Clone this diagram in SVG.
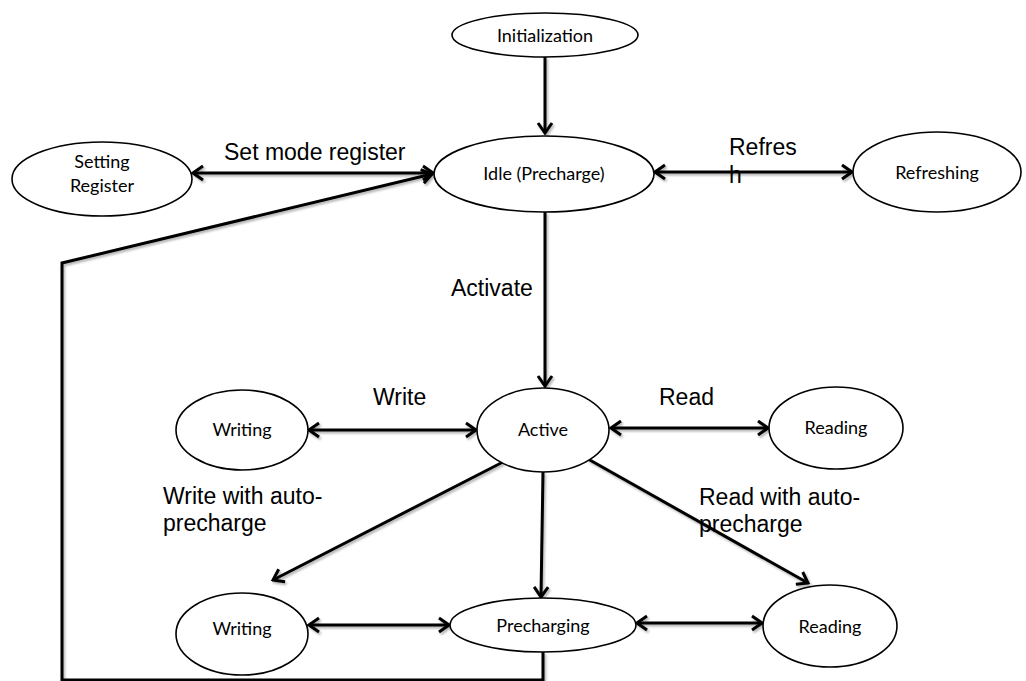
<svg xmlns="http://www.w3.org/2000/svg" width="1026" height="681" viewBox="0 0 1026 681">
  <defs>
    <marker id="head" viewBox="-12 -9 14 18" refX="0" refY="0" markerWidth="14" markerHeight="18" markerUnits="userSpaceOnUse" orient="auto-start-reverse">
      <path d="M-10,-7 L0,0 L-10,7" fill="none" stroke="#000" stroke-width="3" stroke-linejoin="miter"/>
    </marker>
    <filter id="shade" x="-10%" y="-10%" width="130%" height="140%">
      <feDropShadow dx="1.5" dy="2" stdDeviation="1.2" flood-color="#000" flood-opacity="0.3"/>
    </filter>
  </defs>
  <style>
    .node ellipse { fill: #fff; stroke: #000; stroke-width: 1.6; }
    .node text { font-family: "Lato", "Open Sans", sans-serif; font-size: 18px; fill: #000; text-anchor: middle; }
    .edge { fill: none; stroke: #000; stroke-width: 3; }
    .lbl { font-family: "Liberation Sans", Arial, sans-serif; font-size: 23px; fill: #000; }
  </style>
  <rect width="1026" height="681" fill="#fff"/>

  <!-- transitions -->
  <g id="connectors" filter="url(#shade)">
    <line class="edge" x1="545" y1="57" x2="545" y2="133" marker-end="url(#head)"/>
    <line class="edge" x1="193" y1="173" x2="433" y2="173" marker-start="url(#head)" marker-end="url(#head)"/>
    <line class="edge" x1="655" y1="172" x2="852" y2="172" marker-start="url(#head)" marker-end="url(#head)"/>
    <line class="edge" x1="545" y1="212" x2="545" y2="386" marker-end="url(#head)"/>
    <line class="edge" x1="309" y1="430" x2="476" y2="430" marker-start="url(#head)" marker-end="url(#head)"/>
    <line class="edge" x1="611" y1="428" x2="768" y2="428" marker-start="url(#head)" marker-end="url(#head)"/>
    <line class="edge" x1="503" y1="462" x2="273" y2="580" marker-end="url(#head)"/>
    <line class="edge" x1="543" y1="472" x2="541" y2="597" marker-end="url(#head)"/>
    <line class="edge" x1="588" y1="459" x2="808" y2="583" marker-end="url(#head)"/>
    <line class="edge" x1="309" y1="625" x2="449" y2="625" marker-start="url(#head)" marker-end="url(#head)"/>
    <line class="edge" x1="637" y1="623" x2="762" y2="623" marker-start="url(#head)" marker-end="url(#head)"/>
    <polyline class="edge" points="543,652 543,680 62,680 62,263 432,174" marker-end="url(#head)"/>
  </g>

  <!-- transition labels -->
  <g id="labels">
    <text class="lbl" x="224" y="160">Set mode register</text>
    <text class="lbl" x="729" y="155">Refres</text>
    <text class="lbl" x="729" y="183">h</text>
    <text class="lbl" x="451" y="296">Activate</text>
    <text class="lbl" x="373" y="405">Write</text>
    <text class="lbl" x="659" y="405">Read</text>
    <text class="lbl" x="163" y="504">Write with auto-</text>
    <text class="lbl" x="163" y="531">precharge</text>
    <text class="lbl" x="699" y="505">Read with auto-</text>
    <text class="lbl" x="699" y="532">precharge</text>
  </g>

  <!-- states -->
  <g id="initialization" class="node">
    <ellipse cx="545" cy="35" rx="93" ry="22"/>
    <text x="545" y="42">Initialization</text>
  </g>
  <g id="idle" class="node">
    <ellipse cx="544" cy="174" rx="110" ry="38"/>
    <text x="544" y="180">Idle (Precharge)</text>
  </g>
  <g id="setting-register" class="node">
    <ellipse cx="102" cy="179" rx="90" ry="37"/>
    <text x="102" y="168">Setting</text>
    <text x="102" y="192">Register</text>
  </g>
  <g id="refreshing" class="node">
    <ellipse cx="937" cy="172" rx="84" ry="40"/>
    <text x="937" y="179">Refreshing</text>
  </g>
  <g id="active" class="node">
    <ellipse cx="543" cy="430" rx="66" ry="42"/>
    <text x="543" y="436">Active</text>
  </g>
  <g id="writing" class="node">
    <ellipse cx="242" cy="430" rx="66" ry="40"/>
    <text x="242" y="436">Writing</text>
  </g>
  <g id="reading" class="node">
    <ellipse cx="836" cy="428" rx="67" ry="41"/>
    <text x="836" y="434">Reading</text>
  </g>
  <g id="writing-auto" class="node">
    <ellipse cx="242" cy="634" rx="66" ry="41"/>
    <text x="242" y="635">Writing</text>
  </g>
  <g id="precharging" class="node">
    <ellipse cx="543" cy="625" rx="93" ry="27"/>
    <text x="543" y="632">Precharging</text>
  </g>
  <g id="reading-auto" class="node">
    <ellipse cx="830" cy="626" rx="67" ry="41"/>
    <text x="830" y="633">Reading</text>
  </g>
</svg>
